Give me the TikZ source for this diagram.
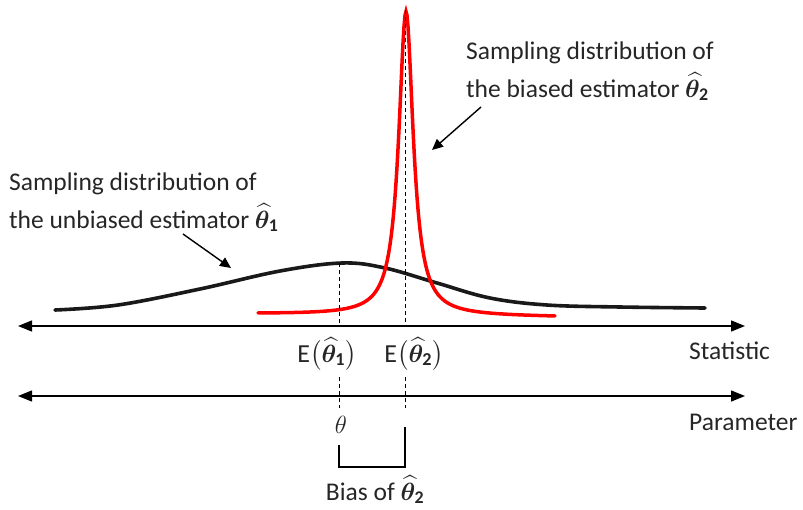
\documentclass[tikz,border=0pt]{standalone}
\usepackage{amsmath}
\usepackage{bm}
\usepackage{fontspec}
\setmainfont{Carlito}
\usetikzlibrary{arrows.meta, positioning}

\tikzset{
  axisline/.style={line width=1.4pt, {Triangle[length=14pt,width=11pt]}-{Triangle[length=14pt,width=11pt]}},
  pointer/.style={line width=1.4pt, -{Triangle[length=11pt,width=10pt]}},
  guide/.style={line width=0.9pt, dash pattern=on 4pt off 3pt},
  label/.style={font=\fontsize{25.5}{30}\selectfont, text=black!85, inner sep=0pt}
}
\newcommand{\thetaone}{\widehat{\bm{\theta}}_{\mathbf{1}}}
\newcommand{\thetatwo}{\widehat{\bm{\theta}}_{\mathbf{2}}}

\begin{document}
\begin{tikzpicture}[x=1pt, y=-1pt]
  \useasboundingbox (0,0) rectangle (803,509);

  % Axes
  \coordinate (statL) at (18,326);
  \coordinate (statR) at (745,326);
  \coordinate (parL) at (18,396);
  \coordinate (parR) at (745,396);
  \draw[axisline] (statL) -- (statR);
  \draw[axisline] (parL) -- (parR);
  \node[label, anchor=base west] (stat) at (689,359) {Statistic};
  \node[label, anchor=base west] (par) at (689,430) {Parameter};

  % Unbiased estimator (black)
  \draw[line width=3.6pt, line cap=round, black!90] plot[smooth, tension=0.6] coordinates {
    (55,310) (118,305) (200,289) (280,271) (342,263) (385,268) (437,283)
    (490,298) (547,305) (620,307) (705,308)};

  % Biased estimator (red)
  \draw[line width=3.5pt, red, line cap=round] plot[domain=258:555, samples=300]
    (\x, {314 + (\x-258)*3/297 - 304/(1+((\x-406)/8.8)^2)});

  % Expected values
  \coordinate (peakA) at (339,263);
  \coordinate (peakB) at (405,10);
  \coordinate (footA) at (339,326);
  \coordinate (footB) at (405,326);
  \draw[guide] (peakA) -- (footA);
  \draw[guide] (peakB) -- (footB);
  \node[label, font=\fontsize{26}{30}\selectfont, anchor=base] (E1) at (327,362) {E$\bigl(\thetaone\bigr)$};
  \node[label, font=\fontsize{26}{30}\selectfont, anchor=base] (E2) at (414,362) {E$\bigl(\thetatwo\bigr)$};

  \coordinate (dropA) at (339,377);
  \coordinate (dropB) at (405,377);
  \coordinate (endA) at (339,408);
  \coordinate (endB) at (405,408);
  \draw[guide] (dropA) -- (endA);
  \draw[guide] (dropB) -- (endB);
  \node[label, font=\fontsize{23}{26}\selectfont] (theta) at (341,425) {$\theta$};

  % Bias bracket
  \coordinate (brA) at (339,445);
  \coordinate (brB) at (405,427);
  \draw[line width=1.3pt] (brA) -- (339,467) -- (405,467) -- (brB);
  \node[label, anchor=base] (bias) at (375,500) {Bias of $\thetatwo$};

  % Annotations
  \node[label, anchor=base west] (unbiasedA) at (9,190) {Sampling distribution of};
  \node[label, anchor=base west] (unbiasedB) at (9,228) {the unbiased estimator $\thetaone$};
  \node[label, anchor=base west] (biasedA) at (466,59) {Sampling distribution of};
  \node[label, anchor=base west] (biasedB) at (466,97) {the biased estimator $\thetatwo$};
  \coordinate (tipA) at (231,268);
  \coordinate (tipB) at (432,150);
  \coordinate (tailA) at (183,234);
  \coordinate (tailB) at (481,107);
  \draw[pointer] (tailA) -- (tipA);
  \draw[pointer] (tailB) -- (tipB);
\end{tikzpicture}
\end{document}
